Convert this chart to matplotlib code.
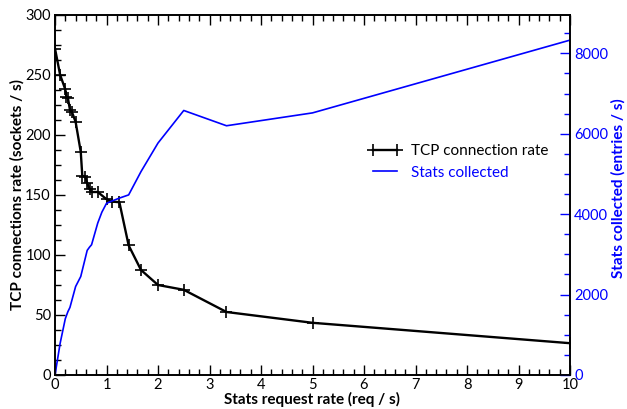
import matplotlib
matplotlib.use("Agg")
import matplotlib.pyplot as plt
from matplotlib.ticker import MultipleLocator
from matplotlib.lines import Line2D

plt.rcParams['font.family'] = ['Lato', 'DejaVu Sans']

# TCP connection rate (sockets / s) vs stats request rate (req / s)
tcp_x = [0, 0.1, 0.2, 0.22, 0.25, 0.29, 0.33, 0.4, 0.5, 0.53, 0.59, 0.625,
         0.67, 0.71, 0.83, 1.0, 1.11, 1.25, 1.43, 1.67, 2.0, 2.5, 3.33, 5.0, 10.0]
tcp_y = [272, 250, 238, 232, 231, 221, 219, 211, 186, 166, 165, 160,
         155, 152.5, 152.5, 146.5, 144.5, 144, 108, 87.5, 75, 71, 52.5, 43.5, 26.5]

# Stats collected (entries / s)
stats_x = [0, 0.1, 0.2, 0.25, 0.29, 0.4, 0.5, 0.625, 0.67, 0.71, 0.83, 0.91,
           1.0, 1.11, 1.25, 1.43, 1.67, 2.0, 2.5, 3.33, 5.0, 10.0]
stats_y = [0, 790, 1400, 1575, 1680, 2200, 2450, 3100, 3180, 3240, 3780, 4050,
           4270, 4330, 4400, 4480, 5060, 5770, 6580, 6200, 6520, 8330]

BLUE = '#0000ff'

fig = plt.figure(figsize=(6.27, 4.09), dpi=100)
ax = fig.add_axes([55/627, 1-375/409, (570-55)/627, (375-15)/409])
ax2 = ax.twinx()

ax.plot(tcp_x, tcp_y, color='black', lw=1.7, marker='+', ms=9, mew=1.2,
        zorder=3)
ax2.plot(stats_x, stats_y, color=BLUE, lw=1.2)

ax.set_xlim(0, 10)
ax.set_ylim(0, 300)
ax2.set_ylim(0, 8955)

ax.xaxis.set_major_locator(MultipleLocator(1))
ax.xaxis.set_minor_locator(MultipleLocator(0.2))
ax.yaxis.set_major_locator(MultipleLocator(50))
ax.yaxis.set_minor_locator(MultipleLocator(12.5))
ax2.yaxis.set_major_locator(MultipleLocator(2000))
ax2.yaxis.set_minor_locator(MultipleLocator(500))

fs = 10.5
ax.tick_params(axis='x', which='both', direction='in', top=True, bottom=True,
               labelsize=fs, pad=2)
ax.tick_params(axis='y', which='both', direction='in', left=True, right=False,
               labelsize=fs, pad=3)
ax.tick_params(which='major', length=7, width=1)
ax.tick_params(which='minor', length=4, width=1)
ax2.tick_params(axis='y', which='both', direction='in', colors=BLUE,
                labelsize=fs, pad=3)
ax2.tick_params(which='major', length=7, width=1)
ax2.tick_params(which='minor', length=4, width=1)

for s in ax.spines.values():
    s.set_linewidth(1.2)
for s in ax2.spines.values():
    s.set_linewidth(1.2)
ax2.spines['right'].set_color('black')

ax.set_xlabel('Stats request rate (req / s)', fontsize=11, fontweight='bold',
              labelpad=0)
ax.set_ylabel('TCP connections rate (sockets / s)', fontsize=11,
              fontweight='bold')
ax.yaxis.set_label_coords(-0.06, 0.5)
ax2.set_ylabel('Stats collected (entries / s)', fontsize=11, fontweight='bold',
               color=BLUE)
ax2.yaxis.set_label_coords(1.08, 0.52)

handles = [Line2D([], [], color='black', lw=1.7, marker='+', ms=9, mew=1.2),
           Line2D([], [], color=BLUE, lw=1.2)]
leg = ax2.legend(handles, ['TCP connection rate', 'Stats collected'],
                 loc='upper left', bbox_to_anchor=(368/627, 1-144/409),
                 bbox_transform=fig.transFigure, frameon=False, fontsize=11,
                 handlelength=2.2, handletextpad=0.6, borderpad=0,
                 borderaxespad=0, labelspacing=0.5, numpoints=2)
leg.get_texts()[1].set_color(BLUE)

fig.savefig('out.png', dpi=100)
